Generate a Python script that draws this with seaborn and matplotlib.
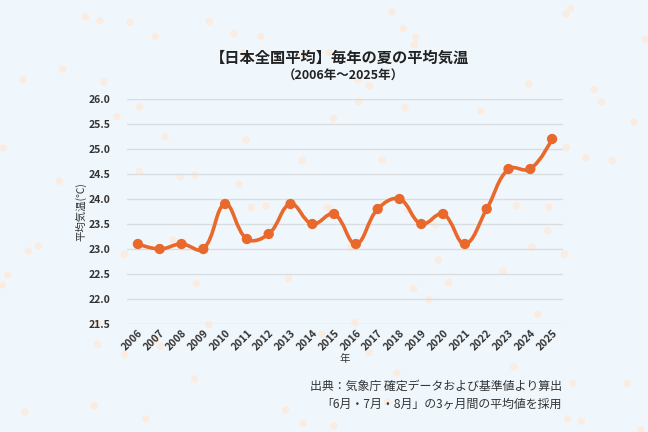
import numpy as np
import pandas as pd
import seaborn as sns
import matplotlib
matplotlib.use("Agg")
import matplotlib.pyplot as plt
from matplotlib.path import Path
from matplotlib.patches import PathPatch

years = ["2006", "2007", "2008", "2009", "2010", "2011", "2012", "2013", "2014", "2015",
         "2016", "2017", "2018", "2019", "2020", "2021", "2022", "2023", "2024", "2025"]
temps = [23.1, 23.0, 23.1, 23.0, 23.9, 23.2, 23.3, 23.9, 23.5, 23.7,
         23.1, 23.8, 24.0, 23.5, 23.7, 23.1, 23.8, 24.6, 24.6, 25.2]
yticks = [21.5, 22.0, 22.5, 23.0, 23.5, 24.0, 24.5, 25.0, 25.5, 26.0]

title = "【日本全国平均】毎年の夏の平均気温"
subtitle = "（2006年～2025年）"
xlabel = "年"
ylabel = "平均気温(℃)"
note1 = "出典：気象庁 確定データおよび基準値より算出"
note2 = "「6月・7月・8月」の3ヶ月間の平均値を採用"

df = pd.DataFrame({"year": years, "temp": temps})

sns.set_theme(style="white")
plt.rcParams["font.family"] = ["Noto Sans CJK JP", "DejaVu Sans"]

BG = "#F0F7FC"
LINE = "#E8692B"

fig = plt.figure(figsize=(6.48, 4.32), dpi=100, facecolor=BG)

# decorative background dots
bgax = fig.add_axes([0, 0, 1, 1], zorder=0)
bgax.set_axis_off()
bgax.set_xlim(0, 1)
bgax.set_ylim(0, 1)
rng = np.random.default_rng(7)
n = 95
bgax.scatter(rng.uniform(0, 1, n), rng.uniform(0, 1, n), s=30, color="#FCEBDD",
             edgecolors="none", alpha=0.85)

ax = fig.add_axes([127 / 648, 1 - 324 / 432, (563 - 127) / 648, (324 - 99) / 432], zorder=1)
ax.patch.set_alpha(0)

sns.scatterplot(data=df, x="year", y="temp", ax=ax, color=LINE, s=55,
                edgecolor="none", zorder=4, legend=False)

# smooth (Chart.js-like tension) line through the data points
xs = np.arange(len(temps), dtype=float)
ys = np.array(temps, dtype=float)
sx, sy = 21.8, 50.0
t = 0.4
prev_cp = []
next_cp = []
for i in range(len(xs)):
    if i == 0 or i == len(xs) - 1:
        prev_cp.append((xs[i], ys[i]))
        next_cp.append((xs[i], ys[i]))
        continue
    d01 = np.hypot((xs[i] - xs[i - 1]) * sx, (ys[i] - ys[i - 1]) * sy)
    d12 = np.hypot((xs[i + 1] - xs[i]) * sx, (ys[i + 1] - ys[i]) * sy)
    s01 = d01 / (d01 + d12)
    s12 = d12 / (d01 + d12)
    dx = xs[i + 1] - xs[i - 1]
    dy = ys[i + 1] - ys[i - 1]
    prev_cp.append((xs[i] - t * s01 * dx, ys[i] - t * s01 * dy))
    next_cp.append((xs[i] + t * s12 * dx, ys[i] + t * s12 * dy))
verts = [(xs[0], ys[0])]
codes = [Path.MOVETO]
for i in range(len(xs) - 1):
    verts += [next_cp[i], prev_cp[i + 1], (xs[i + 1], ys[i + 1])]
    codes += [Path.CURVE4] * 3
ax.add_patch(PathPatch(Path(verts, codes), facecolor="none", edgecolor=LINE,
                       lw=2.6, zorder=3, capstyle="round", joinstyle="round"))

ax.set_xlim(-0.5, len(years) - 0.5)
ax.set_ylim(21.5, 26.0)
ax.set_yticks(yticks)
ax.set_yticklabels([f"{v:.1f}" for v in yticks])
ax.grid(axis="y", color="#DADDE0", lw=1)
ax.set_axisbelow(True)
sns.despine(ax=ax, left=True, bottom=True, top=True, right=True)
ax.tick_params(axis="both", length=0, labelsize=7.5, labelcolor="#333333")
ax.tick_params(axis="y", pad=12)
ax.tick_params(axis="x", pad=3)
for lab in ax.get_xticklabels():
    lab.set_rotation(45)
    lab.set_ha("right")
    lab.set_rotation_mode("anchor")
    lab.set_fontweight("bold")
for lab in ax.get_yticklabels():
    lab.set_fontweight("bold")

ax.set_xlabel(xlabel, fontsize=7.5, color="#333333", labelpad=1)
ax.set_ylabel(ylabel, fontsize=7.5, color="#333333", labelpad=1)

fig.text(340 / 648, 1 - 58 / 432, title, ha="center", va="center",
         fontsize=11, fontweight="bold", color="#222222")
fig.text(343 / 648, 1 - 76 / 432, subtitle, ha="center", va="center",
         fontsize=9, fontweight="bold", color="#222222")
fig.text(562 / 648, 1 - 386 / 432, note1, ha="right", va="center",
         fontsize=8.6, color="#333333")
fig.text(562 / 648, 1 - 404 / 432, note2, ha="right", va="center",
         fontsize=8.6, color="#333333")

fig.savefig("out.png", dpi=100, facecolor=BG)
